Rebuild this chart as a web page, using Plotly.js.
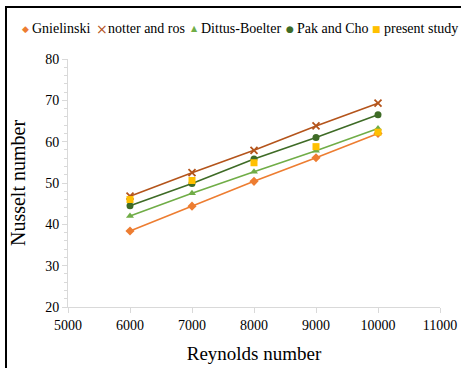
<!DOCTYPE html>
<html><head><meta charset="utf-8">
<script src="https://cdn.plot.ly/plotly-3.0.1.min.js"></script>
<style>
html,body{margin:0;padding:0;background:#fff;}
#frame{position:absolute;left:5px;top:6px;width:480px;height:400px;border:2px solid #000;box-sizing:border-box;}
#chart{position:absolute;left:0;top:0;width:461px;height:368px;}
</style></head>
<body>
<div id="frame"></div>
<div id="chart"></div>
<script>
const reynolds = [6000, 7000, 8000, 9000, 10000];
const gnielinski = [38.4, 44.4, 50.4, 56.1, 62.0];
const notterRos = [46.8, 52.5, 57.9, 63.8, 69.3];
const dittusBoelter = [42.0, 47.5, 52.7, 57.8, 63.2];
const pakCho = [44.5, 49.9, 55.8, 61.0, 66.5];
const presentStudy = [46.0, 50.6, 54.9, 58.8, 62.3];
const seriesNames = ['Gnielinski', 'notter and ros', 'Dittus-Boelter', 'Pak and Cho', 'present study'];
const xTicks = [5000, 6000, 7000, 8000, 9000, 10000, 11000];
const yTicks = [20, 30, 40, 50, 60, 70, 80];

const font = 'Liberation Serif';
const colors = ['#ED7D31', '#B4541B', '#70AD47', '#3E6B26', '#FFC000'];
const symbols = ['diamond', 'x-thin-open', 'triangle-up', 'circle', 'square'];
const modes = ['lines+markers', 'lines+markers', 'lines+markers', 'lines+markers', 'markers'];
const values = [gnielinski, notterRos, dittusBoelter, pakCho, presentStudy];

const data = values.map((v, i) => ({
  x: reynolds, y: v, name: seriesNames[i], type: 'scatter', mode: modes[i],
  line: {color: colors[i], width: 1.6},
  marker: {color: colors[i], symbol: symbols[i], size: 7,
    line: i === 1 ? {color: colors[i], width: 1.8} : {width: 0}}
}));

// legend drawn as a text line (marker glyph + name)
const glyphs = ['\u25C6', '\u00D7', '\u25B2', '\u25CF', '\u25A0'];
const glyphSizes = [9, 14, 8, 9, 9];
const glyphPx = [25.7, 102.3, 194, 289.7, 376];
const textPx = [32.3, 108.3, 201.3, 296.7, 384];
const toPaper = px => (px - 68) / 372;
const annotations = [];
seriesNames.forEach((n, i) => {
  annotations.push({xref: 'paper', yref: 'paper', x: toPaper(glyphPx[i]), y: 1 + (59 - 29) / 248,
    xanchor: 'center', yanchor: 'middle', showarrow: false,
    text: glyphs[i], font: {family: 'DejaVu Sans', size: glyphSizes[i], color: colors[i]}});
  annotations.push({xref: 'paper', yref: 'paper', x: toPaper(textPx[i]), y: 1 + (59 - 29) / 248,
    xanchor: 'left', yanchor: 'middle', showarrow: false, xshift: -2,
    text: n, font: {family: font, size: 14, color: '#000'}});
});

const layout = {
  width: 461, height: 368,
  margin: {l: 68, r: 21, t: 59, b: 61, autoexpand: false},
  paper_bgcolor: 'rgba(0,0,0,0)', plot_bgcolor: 'rgba(0,0,0,0)',
  font: {family: font, color: '#000', size: 14},
  showlegend: false,
  annotations: annotations,
  xaxis: {range: [5000, 11000], tickvals: xTicks, ticktext: xTicks.map(String),
    showgrid: false, zeroline: false, showline: true, linecolor: '#d9d9d9', linewidth: 1,
    ticks: 'outside', ticklen: 5, tickcolor: '#d9d9d9', automargin: false,
    tickfont: {family: font, size: 14, color: '#000'},
    title: {text: 'Reynolds number', font: {family: font, size: 19, color: '#000'}, standoff: 14}},
  yaxis: {range: [20, 80], tickvals: yTicks, ticktext: yTicks.map(String),
    showgrid: false, zeroline: false, showline: true, linecolor: '#d9d9d9', linewidth: 1,
    ticks: 'outside', ticklen: 5, tickcolor: '#d9d9d9', automargin: false,
    minor: {dtick: 2, ticks: 'outside', ticklen: 3, tickcolor: '#d9d9d9', showgrid: false},
    tickfont: {family: font, size: 14, color: '#000'},
    title: {text: 'Nusselt number', font: {family: font, size: 20, color: '#000'}, standoff: 14}}
};
Plotly.newPlot('chart', data, layout, {displayModeBar: false, staticPlot: true});
</script>
</body></html>
